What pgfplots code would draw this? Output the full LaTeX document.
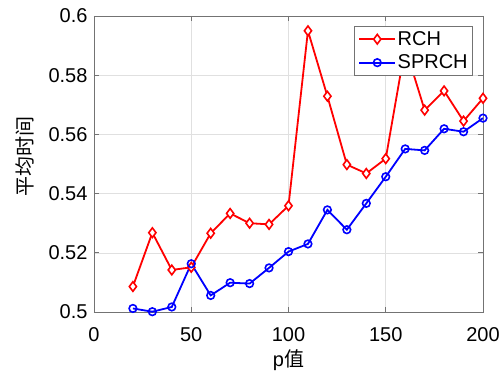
\documentclass[border=0pt]{standalone}
\usepackage{fontspec}
\setmainfont{Liberation Sans}
\newfontfamily\cjk{Noto Sans CJK SC}
\usepackage{pgfplots}
\pgfplotsset{compat=1.18}
\definecolor{axgray}{rgb}{0.45,0.45,0.45}
\definecolor{gridgray}{rgb}{0.88,0.88,0.88}
\begin{document}
\begin{tikzpicture}
\begin{axis}[
  width=389bp, height=296bp, scale only axis,
  xmin=0, xmax=200, ymin=0.5, ymax=0.6,
  xtick={0,50,100,150,200},
  ytick={0.5,0.52,0.54,0.56,0.58,0.6},
  yticklabels={0.5,0.52,0.54,0.56,0.58,0.6},
  /pgf/number format/assume math mode=true,
  tick label style={font=\fontsize{20bp}{22bp}\selectfont, black},
  xticklabel style={yshift=-12bp},
  yticklabel style={xshift=-3bp},
  grid=major,
  grid style={gridgray, line width=0.6bp},
  axis line style={axgray, line width=0.8bp},
  tick style={axgray, line width=0.8bp},
  major tick length=5bp,
  tick align=inside,
  xlabel={p{\cjk 值}},
  ylabel={{\cjk 平均时间}},
  label style={font=\fontsize{20bp}{22bp}\selectfont},
  xlabel style={yshift=-1bp},
  ylabel style={yshift=8bp, xshift=8bp},
  legend style={at={(axis cs:194.9,0.5966)}, anchor=north east,
    draw=axgray, line width=0.8bp, fill=white,
    font=\fontsize{20bp}{22bp}\selectfont,
    row sep=5bp, inner sep=3.5bp,
    nodes={inner sep=1.5bp}},
  legend cell align=left,
  legend image code/.code={
    \draw[line width=1.8bp, mark repeat=2, mark phase=2] plot coordinates {(0bp,0bp) (18bp,0bp) (36bp,0bp)};},
]
\addplot[red, line width=1.8bp, mark=diamond*, mark size=4.8bp,
  mark options={fill=white, line width=1.6bp}] coordinates {
(20,0.5086) (30,0.5268) (40,0.5142) (50,0.5151) (60,0.5266) (70,0.5333)
(80,0.5300) (90,0.5296) (100,0.5359) (110,0.5950) (120,0.5729) (130,0.5498)
(140,0.5468) (150,0.5518) (160,0.5895) (170,0.5682) (180,0.5747) (190,0.5645)
(200,0.5722)};
\addlegendentry{RCH}
\addplot[blue, line width=1.8bp, mark=o, mark size=3.8bp,
  mark options={fill=white, line width=1.6bp}] coordinates {
(20,0.5012) (30,0.5001) (40,0.5017) (50,0.5163) (60,0.5056) (70,0.5099)
(80,0.5096) (90,0.5149) (100,0.5204) (110,0.5230) (120,0.5345) (130,0.5278)
(140,0.5367) (150,0.5457) (160,0.5551) (170,0.5546) (180,0.5619) (190,0.5609)
(200,0.5655)};
\addlegendentry{SPRCH}
\end{axis}
\pgfresetboundingbox
\path (-94bp,-68bp) rectangle (407bp,312bp);
\end{tikzpicture}
\end{document}
